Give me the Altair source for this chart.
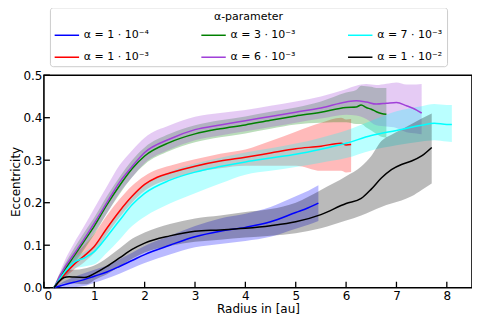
import altair as alt
import pandas as pd

# ---- data ----
labels = ["α = 1 · 10⁻⁴", "α = 1 · 10⁻³", "α = 3 · 10⁻³",
          "α = 6 · 10⁻³", "α = 7 · 10⁻³", "α = 1 · 10⁻²"]
colors = ["#0000ff", "#ff0000", "#008000", "#a040d8", "#00ffff", "#000000"]
legend_title = "α-parameter"

r_a1e4 = [0.2, 0.4, 0.6, 0.8, 1.0, 1.25, 1.5, 1.75, 2.0, 2.5, 3.0, 3.5, 4.0, 4.5, 5.0, 5.25, 5.45]
e_a1e4 = [0, 0.007, 0.013, 0.019, 0.027, 0.037, 0.05, 0.064, 0.078, 0.1, 0.12, 0.133, 0.142, 0.155, 0.177, 0.188, 0.199]
lo_a1e4 = [0, 0.008, 0.012, 0.015, 0.015, 0.015, 0.017, 0.018, 0.02, 0.022, 0.025, 0.03, 0.032, 0.035, 0.038, 0.04, 0.042]
hi_a1e4 = [0, 0.008, 0.012, 0.015, 0.015, 0.015, 0.017, 0.018, 0.02, 0.022, 0.025, 0.03, 0.032, 0.035, 0.038, 0.04, 0.042]

r_a1e3 = [0.2, 0.4, 0.6, 0.8, 1.0, 1.25, 1.5, 1.75, 2.0, 2.25, 2.5, 3.0, 3.5, 4.0, 4.5, 5.0, 5.5, 5.9, 6.0, 6.1]
e_a1e3 = [0, 0.03, 0.055, 0.075, 0.097, 0.14, 0.18, 0.215, 0.243, 0.26, 0.27, 0.286, 0.298, 0.307, 0.317, 0.327, 0.333, 0.34, 0.336, 0.337]
lo_a1e3 = [0, 0.008, 0.012, 0.015, 0.015, 0.015, 0.015, 0.015, 0.015, 0.015, 0.015, 0.015, 0.017, 0.02, 0.03, 0.04, 0.058, 0.065, 0.065, 0.065]
hi_a1e3 = [0, 0.01, 0.02, 0.025, 0.03, 0.03, 0.028, 0.025, 0.02, 0.018, 0.017, 0.016, 0.017, 0.018, 0.028, 0.04, 0.055, 0.06, 0.06, 0.06]

r_a3e3 = [0.2, 0.4, 0.6, 0.8, 1.0, 1.25, 1.5, 1.75, 2.0, 2.5, 3.0, 3.5, 4.0, 4.5, 5.0, 5.5, 6.0, 6.2, 6.3, 6.4, 6.5, 6.6, 6.7, 6.8]
e_a3e3 = [0, 0.04, 0.075, 0.11, 0.145, 0.195, 0.24, 0.28, 0.31, 0.342, 0.362, 0.374, 0.383, 0.394, 0.404, 0.413, 0.424, 0.425, 0.43, 0.424, 0.42, 0.414, 0.41, 0.408]
lo_a3e3 = [0, 0.012, 0.018, 0.02, 0.02, 0.02, 0.02, 0.02, 0.02, 0.02, 0.02, 0.02, 0.02, 0.02, 0.02, 0.025, 0.035, 0.04, 0.045, 0.047, 0.05, 0.052, 0.055, 0.055]
hi_a3e3 = [0, 0.012, 0.018, 0.02, 0.02, 0.02, 0.02, 0.02, 0.02, 0.02, 0.02, 0.02, 0.02, 0.02, 0.02, 0.025, 0.035, 0.04, 0.045, 0.05, 0.053, 0.056, 0.06, 0.062]

r_a6e3 = [0.2, 0.4, 0.6, 0.8, 1.0, 1.25, 1.5, 1.75, 2.0, 2.5, 3.0, 3.5, 4.0, 4.5, 5.0, 5.5, 6.0, 6.2, 6.4, 6.6, 6.8, 7.0, 7.2, 7.4, 7.5]
e_a6e3 = [0, 0.045, 0.08, 0.115, 0.152, 0.2, 0.248, 0.285, 0.318, 0.35, 0.372, 0.383, 0.393, 0.403, 0.413, 0.423, 0.437, 0.44, 0.437, 0.432, 0.434, 0.436, 0.428, 0.418, 0.411]
lo_a6e3 = [0, 0.012, 0.018, 0.02, 0.022, 0.025, 0.025, 0.025, 0.025, 0.025, 0.025, 0.025, 0.025, 0.025, 0.025, 0.025, 0.03, 0.035, 0.04, 0.05, 0.055, 0.06, 0.062, 0.055, 0.05]
hi_a6e3 = [0, 0.015, 0.025, 0.03, 0.035, 0.038, 0.04, 0.038, 0.035, 0.032, 0.03, 0.028, 0.025, 0.025, 0.025, 0.027, 0.03, 0.035, 0.042, 0.045, 0.046, 0.047, 0.05, 0.06, 0.068]

r_a7e3 = [0.2, 0.4, 0.6, 0.8, 1.0, 1.25, 1.5, 1.75, 2.0, 2.5, 3.0, 3.5, 4.0, 4.5, 5.0, 5.5, 6.0, 6.5, 7.0, 7.5, 7.75, 8.0, 8.1]
e_a7e3 = [0, 0.035, 0.06, 0.07, 0.085, 0.12, 0.158, 0.195, 0.222, 0.253, 0.272, 0.285, 0.296, 0.305, 0.314, 0.326, 0.34, 0.358, 0.37, 0.382, 0.387, 0.384, 0.384]
lo_a7e3 = [0, 0.01, 0.015, 0.02, 0.03, 0.038, 0.045, 0.05, 0.055, 0.055, 0.05, 0.04, 0.03, 0.03, 0.03, 0.032, 0.035, 0.035, 0.035, 0.038, 0.04, 0.04, 0.041]
hi_a7e3 = [0, 0.01, 0.012, 0.014, 0.015, 0.018, 0.02, 0.02, 0.02, 0.02, 0.02, 0.021, 0.022, 0.023, 0.025, 0.027, 0.03, 0.035, 0.045, 0.045, 0.045, 0.046, 0.046]

r_a1e2 = [0.2, 0.3, 0.4, 0.5, 0.6, 0.8, 0.9, 1.0, 1.25, 1.5, 1.75, 2.0, 2.5, 3.0, 3.5, 4.0, 4.5, 5.0, 5.5, 6.0, 6.3, 6.5, 6.7, 6.9, 7.1, 7.3, 7.5, 7.7]
e_a1e2 = [0, 0.015, 0.024, 0.026, 0.025, 0.024, 0.027, 0.033, 0.05, 0.07, 0.09, 0.105, 0.122, 0.133, 0.136, 0.14, 0.146, 0.155, 0.172, 0.198, 0.21, 0.232, 0.258, 0.278, 0.29, 0.298, 0.31, 0.33]
lo_a1e2 = [0, 0.01, 0.014, 0.016, 0.015, 0.016, 0.017, 0.015, 0.018, 0.02, 0.022, 0.022, 0.024, 0.025, 0.023, 0.022, 0.024, 0.027, 0.032, 0.04, 0.04, 0.052, 0.068, 0.08, 0.085, 0.083, 0.08, 0.085]
hi_a1e2 = [0, 0.015, 0.016, 0.016, 0.017, 0.021, 0.021, 0.019, 0.02, 0.022, 0.025, 0.025, 0.028, 0.03, 0.034, 0.038, 0.039, 0.045, 0.058, 0.064, 0.075, 0.078, 0.087, 0.082, 0.082, 0.087, 0.088, 0.08]

x_ticks = [0, 1, 2, 3, 4, 5, 6, 7, 8]
y_ticks = [0.0, 0.1, 0.2, 0.3, 0.4, 0.5]

series = [
    (labels[0], r_a1e4, e_a1e4, lo_a1e4, hi_a1e4),
    (labels[1], r_a1e3, e_a1e3, lo_a1e3, hi_a1e3),
    (labels[2], r_a3e3, e_a3e3, lo_a3e3, hi_a3e3),
    (labels[3], r_a6e3, e_a6e3, lo_a6e3, hi_a6e3),
    (labels[4], r_a7e3, e_a7e3, lo_a7e3, hi_a7e3),
    (labels[5], r_a1e2, e_a1e2, lo_a1e2, hi_a1e2),
]
rows = []
for name, rr, ee, lo, hi in series:
    for k in range(len(rr)):
        rows.append({"alpha": name, "r": rr[k], "e": ee[k],
                     "lo": max(ee[k] - lo[k], 0), "hi": ee[k] + hi[k]})
df = pd.DataFrame(rows)

FONT = "DejaVu Sans"
W, H = 429, 213

xs = alt.Scale(domain=[0, 8.5], nice=False, zero=False)
ys = alt.Scale(domain=[0, 0.5], nice=False)

bands = alt.Chart(df).mark_area(opacity=0.27, interpolate="monotone").encode(
    x=alt.X("r:Q", scale=xs),
    y=alt.Y("lo:Q", scale=ys),
    y2="hi:Q",
    color=alt.Color("alpha:N", scale=alt.Scale(domain=labels, range=colors),
                    legend=None),
)

lines = alt.Chart(df).mark_line(strokeWidth=1.5, interpolate="monotone").encode(
    x=alt.X("r:Q", scale=xs,
            axis=alt.Axis(title="Radius in [au]", values=x_ticks, format="d",
                          ticks=False, domain=False, grid=False,
                          labelPadding=3, titlePadding=2)),
    y=alt.Y("e:Q", scale=ys,
            axis=alt.Axis(title="Eccentricity", values=y_ticks, format=".1f",
                          ticks=False, domain=False, grid=False,
                          labelPadding=2, titlePadding=0)),
    color=alt.Color("alpha:N", scale=alt.Scale(domain=labels, range=colors),
                    legend=alt.Legend(
                        title=" ", orient="none", legendX=6, legendY=-68,
                        columns=3, symbolType="stroke", symbolSize=600,
                        symbolStrokeWidth=1.5, labelFontSize=11, titleFontSize=6,
                        labelLimit=200,
                        padding=4, rowPadding=4, columnPadding=48,
                        strokeColor="#cccccc", cornerRadius=3)),
)

title_txt = alt.Chart(pd.DataFrame({"t": [legend_title]})).mark_text(
    font=FONT, fontSize=11, align="center", baseline="middle", color="black"
).encode(text="t:N", x=alt.value(205), y=alt.value(-58))

xt = alt.Chart(pd.DataFrame({"t": x_ticks})).mark_rule(
    color="black", strokeWidth=1.3).encode(
    x=alt.X("t:Q", scale=xs), y=alt.value(H), y2=alt.value(H - 6))
yt = alt.Chart(pd.DataFrame({"t": y_ticks})).mark_rule(
    color="black", strokeWidth=1.3).encode(
    y=alt.Y("t:Q", scale=ys), x=alt.value(0), x2=alt.value(6))

chart = alt.layer(bands, lines, xt, yt, title_txt).resolve_scale(
    color="independent"
).properties(
    width=W, height=H,
    autosize="none",
    padding={"left": 36, "top": 67, "right": 0, "bottom": 27},
).configure_view(
    stroke="black", strokeWidth=1.6
).configure_axis(
    labelFont=FONT, titleFont=FONT, labelFontSize=12, titleFontSize=12,
    titleFontWeight="normal", labelColor="black", titleColor="black",
).configure_legend(
    labelFont=FONT, titleFont=FONT,
)

chart.save("out.html", embed_options={"renderer": "svg", "actions": False})
